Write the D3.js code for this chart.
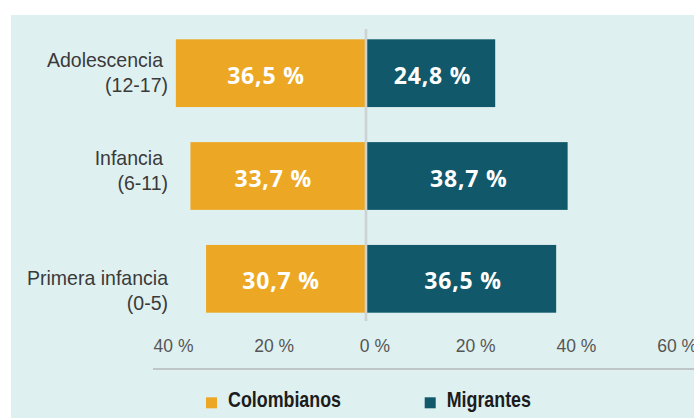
<!DOCTYPE html>
<html>
<head>
<meta charset="utf-8">
<script src="https://cdn.jsdelivr.net/npm/d3@7"></script>
<style>
  body { margin: 0; background: #fff; }
  svg { display: block; }
</style>
</head>
<body>
<svg width="694" height="418"></svg>
<script>
// data
var groups = ["Adolescencia", "Infancia", "Primera infancia"];
var ageRanges = ["(12-17)", "(6-11)", "(0-5)"];
var colombianos = [36.5, 33.7, 30.7];
var migrantes = [24.8, 38.7, 36.5];
var seriesNames = ["Colombianos", "Migrantes"];
var tickValues = [-40, -20, 0, 20, 40, 60];

var colors = ["#eca825", "#10586a"];
// small per-row nudges of the category labels (the original is hand set)
var labelDy = [-6.5, -11.5, 6];
var labelDx = [163, 163, 168];

var svg = d3.select("svg");

svg.append("rect")
    .attr("x", 11).attr("y", 15)
    .attr("width", 694 - 11).attr("height", 418 - 15)
    .attr("fill", "#dff0f0");

var x = d3.scaleLinear().domain([-40, 60]).range([157.6, 678.6]);
var xAxisScale = d3.scaleLinear().domain([-40, 60]).range([173, 676.6]);
var y = d3.scaleBand().domain(groups).range([39.3, 312.7]).paddingInner(0.341).paddingOuter(0);

var fmt = d3.formatLocale({decimal: ",", thousands: ".", grouping: [3], currency: ["", ""]}).format(".1f");

var rows = groups.map(function(g, i) {
  return {group: g, range: ageRanges[i], col: colombianos[i], mig: migrantes[i], i: i};
});

// bars
var row = svg.selectAll(".row").data(rows).enter().append("g").attr("class", "row");

row.append("rect")
    .attr("x", function(d) { return x(-d.col); })
    .attr("y", function(d) { return y(d.group); })
    .attr("width", function(d) { return x(0) - x(-d.col); })
    .attr("height", y.bandwidth())
    .attr("fill", colors[0]);

row.append("rect")
    .attr("x", x(0))
    .attr("y", function(d) { return y(d.group); })
    .attr("width", function(d) { return x(d.mig) - x(0); })
    .attr("height", y.bandwidth())
    .attr("fill", colors[1]);

// zero line
svg.append("line")
    .attr("x1", x(0)).attr("x2", x(0))
    .attr("y1", 29).attr("y2", 321)
    .attr("stroke", "#cdd2d3")
    .attr("stroke-width", 2.6);

// value labels
var valueStyle = function(sel) {
  sel.attr("text-anchor", "middle")
    .attr("fill", "#fff")
    .style("font-family", "'Open Sans', 'Noto Sans', sans-serif")
    .style("font-weight", "700")
    .style("font-size", "23px")
    .style("letter-spacing", "0.8px");
};

row.append("text")
    .attr("x", function(d) { return (x(-d.col) + x(0)) / 2 - 5; })
    .attr("y", function(d) { return y(d.group) + y.bandwidth() / 2 + 10.5; })
    .call(valueStyle)
    .text(function(d) { return fmt(d.col) + " %"; });

row.append("text")
    .attr("x", function(d) { return (x(d.mig) + x(0)) / 2 + 2; })
    .attr("y", function(d) { return y(d.group) + y.bandwidth() / 2 + 10.5; })
    .call(valueStyle)
    .text(function(d) { return fmt(d.mig) + " %"; });

// category labels
var label = row.append("g")
    .attr("transform", function(d) {
      return "translate(0," + (y(d.group) + y.bandwidth() / 2 + labelDy[d.i]) + ")";
    })
    .style("font-family", "'Liberation Sans', Arial, sans-serif")
    .style("font-size", "21px")
    .attr("fill", "#3a3a3a");

label.append("text")
    .attr("text-anchor", "end")
    .attr("transform", function(d) { return "translate(" + labelDx[d.i] + ",0) scale(0.93,1)"; })
    .text(function(d) { return d.group; });

label.append("text")
    .attr("text-anchor", "end")
    .attr("transform", "translate(168,25) scale(0.93,1)")
    .text(function(d) { return d.range; });

// axis
var axisG = svg.append("g")
    .attr("transform", "translate(0,351.7)")
    .call(d3.axisBottom(xAxisScale)
      .tickValues(tickValues)
      .tickSize(0)
      .tickFormat(function(d) { return Math.abs(d) + " %"; }));

axisG.select(".domain").remove();
axisG.selectAll("text")
    .attr("y", 0).attr("dy", 0)
    .attr("fill", "#555")
    .style("font-family", "'Liberation Sans', Arial, sans-serif")
    .style("font-size", "17.5px");

svg.append("line")
    .attr("x1", xAxisScale(-40) - 20).attr("x2", 694)
    .attr("y1", 369).attr("y2", 369)
    .attr("stroke", "#b5b9ba")
    .attr("stroke-width", 1.5);

// legend
var legendX = [206, 424.7];
var legend = svg.selectAll(".legend").data(seriesNames).enter().append("g")
    .attr("class", "legend")
    .attr("transform", function(d, i) { return "translate(" + legendX[i] + ",397.3)"; });

legend.append("rect")
    .attr("width", 11).attr("height", 11)
    .attr("fill", function(d, i) { return colors[i]; });

legend.append("text")
    .attr("transform", "translate(22,10) scale(0.83,1)")
    .attr("fill", "#1c1c1c")
    .style("font-family", "'Liberation Sans', Arial, sans-serif")
    .style("font-weight", "700")
    .style("font-size", "21.5px")
    .text(function(d) { return d; });
</script>
</body>
</html>
